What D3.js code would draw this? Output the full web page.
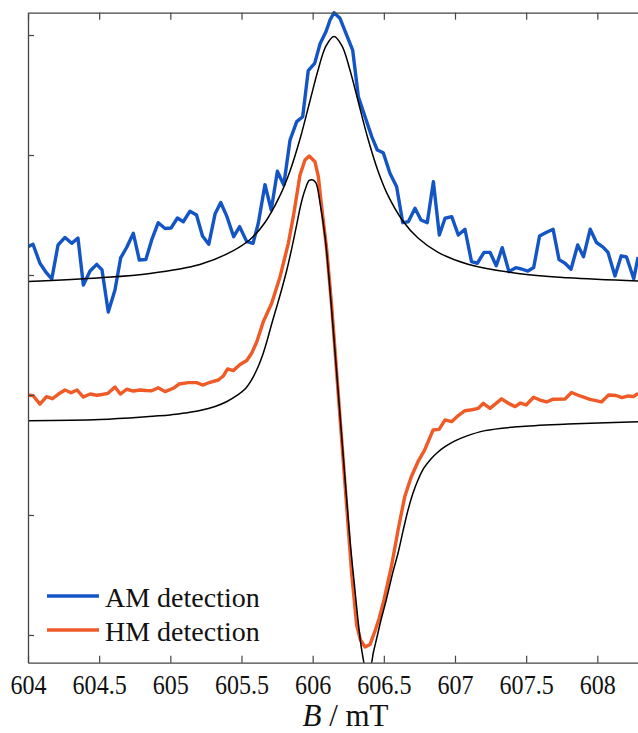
<!DOCTYPE html>
<html>
<head>
<meta charset="utf-8">
<script src="https://cdn.jsdelivr.net/npm/d3@7"></script>
<style>
  body { margin: 0; background: #fff; }
  svg { display: block; }
</style>
</head>
<body>
<div id="chart"></div>
<script>
// field values in mT, signal in arbitrary units (one y tick = 1)
var amDetection = [
  [604.000,3.236],[604.035,3.256],[604.084,3.098],[604.130,3.017],[604.167,2.967],
  [604.211,3.250],[604.260,3.313],[604.307,3.264],[604.351,3.308],[604.389,2.917],
  [604.436,3.033],[604.483,3.089],[604.520,3.042],[604.564,2.692],[604.611,2.875],
  [604.651,3.142],[604.693,3.229],[604.740,3.348],[604.782,3.125],[604.828,3.129],
  [604.869,3.292],[604.915,3.436],[604.963,3.388],[605.005,3.392],[605.050,3.475],
  [605.091,3.444],[605.138,3.532],[605.184,3.500],[605.226,3.325],[605.270,3.256],
  [605.314,3.508],[605.354,3.604],[605.398,3.486],[605.445,3.319],[605.487,3.403],
  [605.537,3.278],[605.581,3.264],[605.618,3.431],[605.665,3.753],[605.709,3.542],
  [605.752,3.865],[605.797,3.750],[605.841,4.125],[605.888,4.278],[605.930,4.319],
  [605.969,4.704],[606.014,4.764],[606.052,4.927],[606.094,5.029],[606.122,5.125],
  [606.150,5.186],[606.192,5.139],[606.234,5.014],[606.281,4.875],[606.321,4.486],
  [606.368,4.319],[606.415,4.153],[606.454,4.042],[606.496,4.019],[606.543,3.848],
  [606.590,3.736],[606.633,3.436],[606.672,3.444],[606.719,3.556],[606.761,3.458],
  [606.805,3.436],[606.848,3.778],[606.890,3.333],[606.930,3.473],[606.977,3.486],
  [607.023,3.333],[607.070,3.381],[607.116,3.111],[607.157,3.098],[607.204,3.189],
  [607.246,3.189],[607.290,3.077],[607.332,3.228],[607.379,3.028],[607.427,3.061],
  [607.467,3.050],[607.512,3.033],[607.553,3.063],[607.594,3.325],[607.640,3.354],
  [607.689,3.382],[607.731,3.128],[607.773,3.098],[607.815,3.048],[607.862,3.250],
  [607.903,3.153],[607.950,3.382],[607.994,3.271],[608.040,3.233],[608.075,3.188],
  [608.124,2.992],[608.168,3.160],[608.205,3.150],[608.256,2.969],[608.286,3.150]
];

var amFit = [
  [604.000,2.946],[604.506,2.977],[604.857,3.013],[605.208,3.088],[605.419,3.188],
  [605.560,3.296],[605.665,3.438],[605.771,3.663],[605.841,3.867],[605.911,4.133],
  [605.981,4.450],[606.038,4.708],[606.094,4.910],[606.150,4.988],[606.206,4.910],
  [606.262,4.708],[606.319,4.450],[606.389,4.133],[606.459,3.867],[606.529,3.663],
  [606.635,3.448],[606.740,3.308],[606.881,3.189],[607.091,3.090],[607.443,3.013],
  [607.794,2.977],[608.286,2.950]
];

var hmDetection = [
  [604.000,2.000],[604.037,1.994],[604.084,1.923],[604.130,1.986],[604.172,1.969],
  [604.214,2.008],[604.260,2.042],[604.302,2.019],[604.344,2.042],[604.389,1.983],
  [604.436,2.008],[604.483,1.998],[604.520,2.004],[604.562,2.014],[604.611,2.067],
  [604.649,2.008],[604.693,2.048],[604.740,2.033],[604.787,2.042],[604.829,2.038],
  [604.869,2.036],[604.915,2.061],[604.963,2.028],[605.021,2.056],[605.063,2.092],
  [605.126,2.103],[605.185,2.103],[605.227,2.083],[605.279,2.106],[605.337,2.125],
  [605.372,2.158],[605.402,2.217],[605.442,2.203],[605.490,2.254],[605.537,2.288],
  [605.572,2.350],[605.607,2.442],[605.653,2.611],[605.712,2.764],[605.771,2.986],
  [605.829,3.264],[605.864,3.486],[605.911,3.833],[605.946,3.958],[605.976,3.992],
  [606.016,3.944],[606.040,3.819],[606.063,3.569],[606.099,3.208],[606.134,2.736],
  [606.169,2.181],[606.204,1.625],[606.239,1.069],[606.274,0.514],[606.309,0.083],
  [606.336,-0.042],[606.368,-0.100],[606.403,-0.079],[606.438,0.033],[606.466,0.133],
  [606.501,0.292],[606.553,0.569],[606.600,0.875],[606.647,1.153],[606.693,1.319],
  [606.740,1.444],[606.787,1.542],[606.846,1.708],[606.888,1.714],[606.930,1.792],
  [606.976,1.778],[607.023,1.829],[607.070,1.869],[607.119,1.877],[607.164,1.889],
  [607.199,1.931],[607.246,1.889],[607.327,1.968],[607.375,1.931],[607.422,1.903],
  [607.460,1.933],[607.500,1.917],[607.552,1.981],[607.597,1.958],[607.643,1.942],
  [607.690,1.965],[607.773,1.967],[607.819,2.021],[607.878,1.992],[607.949,1.964],
  [608.029,1.942],[608.079,2.000],[608.131,1.996],[608.173,1.978],[608.218,1.992],
  [608.253,1.986],[608.286,2.014]
];

var hmFit = [
  [604.000,1.786],[604.506,1.796],[604.878,1.823],[604.998,1.833],[605.103,1.850],
  [605.208,1.871],[605.314,1.904],[605.398,1.946],[605.468,1.996],[605.525,2.050],
  [605.574,2.133],[605.616,2.233],[605.651,2.342],[605.679,2.450],[605.714,2.600],
  [605.749,2.742],[605.785,2.892],[605.820,3.050],[605.855,3.233],[605.890,3.433],
  [605.918,3.592],[605.946,3.708],[605.976,3.788],[606.002,3.792],[606.023,3.767],
  [606.052,3.600],[606.087,3.319],[606.122,2.875],[606.169,2.181],[606.215,1.486],
  [606.262,0.792],[606.297,0.375],[606.321,0.098],[606.347,-0.142],[606.375,-0.275],
  [606.403,-0.267],[606.427,-0.142],[606.452,-0.017],[606.480,0.125],[606.515,0.283],
  [606.564,0.525],[606.600,0.683],[606.635,0.867],[606.670,1.042],[606.705,1.183],
  [606.740,1.292],[606.782,1.392],[606.831,1.467],[606.881,1.525],[606.930,1.569],
  [607.000,1.617],[607.070,1.653],[607.211,1.703],[607.443,1.736],[607.794,1.758],
  [608.286,1.778]
];

var xTicks = [604, 604.5, 605, 605.5, 606, 606.5, 607, 607.5, 608];
var yTicks = [0, 1, 2, 3, 4, 5];
var legendItems = [
  { label: "AM detection", color: "#1455c6" },
  { label: "HM detection", color: "#ef5a26" }
];

(function() {
  var width = 638, height = 733;
  var m = { left: 28, top: 12.7, bottom: 662.7, right: 668.5 };
  var serif = '"Liberation Serif", "Times New Roman", serif';

  var svg = d3.select("#chart").append("svg")
    .attr("width", width)
    .attr("height", height);

  var x = d3.scaleLinear().domain([604, 608.5]).range([m.left, m.right]);
  var y = d3.scaleLinear().domain([-0.231, 5.186]).range([m.bottom, m.top]);

  svg.append("clipPath").attr("id", "plot-clip")
    .append("rect")
    .attr("x", m.left).attr("y", m.top - 2)
    .attr("width", m.right - m.left).attr("height", m.bottom - m.top + 2);

  var plot = svg.append("g").attr("clip-path", "url(#plot-clip)");

  var rawLine = d3.line()
    .x(function(d) { return x(d[0]); })
    .y(function(d) { return y(d[1]); });

  var fitLine = d3.line()
    .x(function(d) { return x(d[0]); })
    .y(function(d) { return y(d[1]); })
    .curve(d3.curveCatmullRom.alpha(0.5));

  plot.append("path").datum(hmDetection)
    .attr("d", rawLine)
    .attr("fill", "none")
    .attr("stroke", legendItems[1].color)
    .attr("stroke-width", 3.4)
    .attr("stroke-linejoin", "round");

  plot.append("path").datum(amDetection)
    .attr("d", rawLine)
    .attr("fill", "none")
    .attr("stroke", legendItems[0].color)
    .attr("stroke-width", 3.4)
    .attr("stroke-linejoin", "round");

  [amFit, hmFit].forEach(function(fit) {
    plot.append("path").datum(fit)
      .attr("d", fitLine)
      .attr("fill", "none")
      .attr("stroke", "#000")
      .attr("stroke-width", 1.5);
  });

  // axes, ticks pointing inward
  var axisColor = "#444";

  var xBottom = svg.append("g")
    .attr("transform", "translate(0," + m.bottom + ")")
    .call(d3.axisBottom(x).tickValues(xTicks).tickSizeInner(-7).tickSizeOuter(0)
      .tickPadding(11).tickFormat(function(d) { return String(d); }));
  xBottom.select(".domain").attr("stroke", axisColor).attr("stroke-width", 1.3);
  xBottom.selectAll(".tick line").attr("stroke", axisColor).attr("stroke-width", 1.2);
  // the tick numbers are set narrow in the original
  xBottom.selectAll(".tick text")
    .style("font-family", serif)
    .style("font-size", "28px")
    .attr("transform", "scale(0.86,1)")
    .attr("fill", "#111");

  var xTop = svg.append("g")
    .attr("transform", "translate(0," + m.top + ")")
    .call(d3.axisTop(x).tickValues(xTicks).tickSizeInner(-7).tickSizeOuter(0)
      .tickFormat(""));
  xTop.select(".domain").attr("stroke", axisColor).attr("stroke-width", 1.3);
  xTop.selectAll(".tick line").attr("stroke", axisColor).attr("stroke-width", 1.2);

  var yLeft = svg.append("g")
    .attr("transform", "translate(" + m.left + ",0)")
    .call(d3.axisLeft(y).tickValues(yTicks).tickSizeInner(-6).tickSizeOuter(0)
      .tickFormat(""));
  yLeft.select(".domain").attr("stroke", axisColor).attr("stroke-width", 1.3);
  yLeft.selectAll(".tick line").attr("stroke", axisColor).attr("stroke-width", 1.2);

  // axis title
  var title = svg.append("text")
    .attr("x", 345.5)
    .attr("y", 726)
    .attr("text-anchor", "middle")
    .style("font-family", serif)
    .style("font-size", "31px")
    .attr("fill", "#111");
  title.append("tspan").style("font-style", "italic").text("B");
  title.append("tspan").text(" / mT");

  // legend
  var legend = svg.append("g");
  legendItems.forEach(function(item, i) {
    var ly = 596 + i * 34;
    legend.append("line")
      .attr("x1", 47).attr("x2", 99)
      .attr("y1", ly).attr("y2", ly)
      .attr("stroke", item.color)
      .attr("stroke-width", 3.4);
    legend.append("text")
      .attr("x", 105)
      .attr("y", ly + 10.5)
      .style("font-family", serif)
      .style("font-size", "28px")
      .attr("fill", "#111")
      .text(item.label);
  });
})();
</script>
</body>
</html>
